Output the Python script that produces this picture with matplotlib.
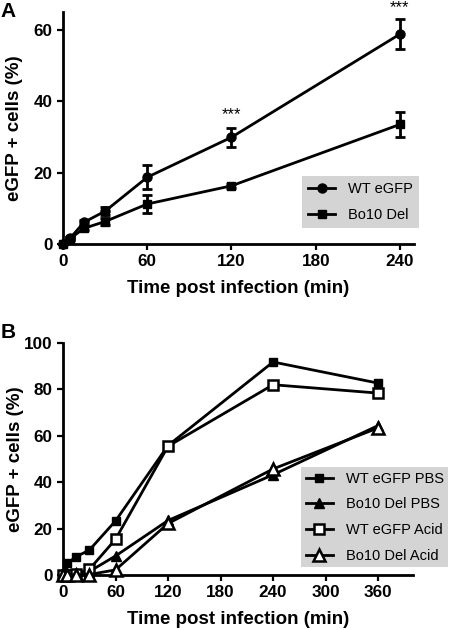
import numpy as np
import matplotlib
matplotlib.use('Agg')
import matplotlib.pyplot as plt

plt.rcParams['font.family'] = ['Liberation Sans', 'DejaVu Sans']

# ── panel A data ─────────────────────────────────────────────────────────────
time_a = [0, 5, 15, 30, 60, 120, 240]
wt_a = [0, 1.6, 6.1, 9.2, 18.7, 29.9, 58.8]
wt_a_err = [0, 0.5, 0.7, 1.2, 3.3, 2.7, 4.2]
del_a = [0, 1.5, 4.4, 6.3, 11.2, 16.3, 33.5]
del_a_err = [0, 0.4, 0.6, 1.0, 2.4, 0.6, 3.5]
sig_times = [120, 240]
sig_y = [36.3, 66.3]

# ── panel B data ─────────────────────────────────────────────────────────────
time_b = [0, 5, 15, 30, 60, 120, 240, 360]
wt_pbs = [0, 5.0, 7.9, 10.7, 23.3, 55.8, 91.8, 82.7]
del_pbs = [0, 0.3, 0.8, 1.5, 8.2, 23.5, 43.2, 64.4]
wt_acid = [0, 0.2, 0.5, 2.4, 15.4, 55.5, 82.0, 78.4]
del_acid = [0, 0, 0, 0.2, 2.2, 22.2, 45.7, 63.4]

LW = 2.0
GRAY = '#d4d4d4'

fig = plt.figure(figsize=(4.5, 6.3), dpi=100)
ax_a = fig.add_axes([0.14, 0.6127, 0.78, 0.3683])
ax_b = fig.add_axes([0.14, 0.0873, 0.778, 0.3683])


def style_axis(ax):
    for s in ['top', 'right']:
        ax.spines[s].set_visible(False)
    for s in ['left', 'bottom']:
        ax.spines[s].set_linewidth(2.0)
    ax.tick_params(direction='out', length=4.3, width=1.6, pad=3,
                   labelsize=12.3)
    for lbl in ax.get_xticklabels() + ax.get_yticklabels():
        lbl.set_fontweight('bold')
    ax.set_xlabel('Time post infection (min)', fontsize=13.5,
                  fontweight='bold', va='center')
    ax.set_ylabel('eGFP + cells (%)', fontsize=13.5, fontweight='bold',
                  va='center')
    ax.xaxis.set_label_coords(0.5, -0.193)
    ax.yaxis.set_label_coords(-0.137, 0.5)


def style_legend(leg):
    frame = leg.get_frame()
    frame.set_facecolor(GRAY)
    frame.set_edgecolor('none')
    frame.set_alpha(1)


# ── panel A ──────────────────────────────────────────────────────────────────
ax_a.errorbar(time_a, wt_a, yerr=wt_a_err, color='black', lw=LW, marker='o',
              ms=6.5, capsize=3.6, capthick=LW, elinewidth=LW,
              label='WT eGFP', clip_on=False, zorder=3)
ax_a.errorbar(time_a, del_a, yerr=del_a_err, color='black', lw=LW, marker='s',
              ms=6, capsize=3.6, capthick=LW, elinewidth=LW,
              label='Bo10 Del', clip_on=False, zorder=3)
for t, y in zip(sig_times, sig_y):
    ax_a.text(t, y, '***', ha='center', va='center', fontsize=12,
              clip_on=False)
ax_a.set_xlim(0, 250)
ax_a.set_ylim(0, 65)
ax_a.set_xticks([0, 60, 120, 180, 240])
ax_a.set_yticks([0, 20, 40, 60])
style_axis(ax_a)
handles, labels = ax_a.get_legend_handles_labels()
handles = [h[0] for h in handles]
leg = ax_a.legend(handles, labels, loc='lower right',
                  bbox_to_anchor=(1.014, 0.069), borderaxespad=0,
                  fontsize=10.5, frameon=True, fancybox=False,
                  handlelength=1.85, handletextpad=0.9, labelspacing=0.85,
                  borderpad=0.4)
style_legend(leg)

# ── panel B ──────────────────────────────────────────────────────────────────
ax_b.plot(time_b, wt_pbs, color='black', lw=LW, marker='s', ms=6,
          label='WT eGFP PBS', clip_on=False, zorder=3)
ax_b.plot(time_b, del_pbs, color='black', lw=LW, marker='^', ms=6.5,
          label='Bo10 Del PBS', clip_on=False, zorder=3)
ax_b.plot(time_b, wt_acid, color='black', lw=LW, marker='s', ms=7.5,
          mfc='white', mew=1.8, label='WT eGFP Acid', clip_on=False, zorder=4)
ax_b.plot(time_b, del_acid, color='black', lw=LW, marker='^', ms=8,
          mfc='white', mew=1.8, label='Bo10 Del Acid', clip_on=False, zorder=4)
ax_b.set_xlim(0, 400)
ax_b.set_ylim(0, 100)
ax_b.set_xticks([0, 60, 120, 180, 240, 300, 360])
ax_b.set_yticks([0, 20, 40, 60, 80, 100])
style_axis(ax_b)
leg_b = ax_b.legend(loc='lower right', bbox_to_anchor=(1.1, 0.034),
                    borderaxespad=0, fontsize=10.5, frameon=True,
                    fancybox=False, handlelength=1.85, handletextpad=0.9,
                    labelspacing=0.8, borderpad=0.3)
style_legend(leg_b)

# panel letters
fig.text(0.002, 0.997, 'A', fontsize=15, fontweight='bold', va='top', ha='left')
fig.text(0.002, 0.487, 'B', fontsize=15, fontweight='bold', va='top', ha='left')

fig.savefig('out.png', dpi=100)
